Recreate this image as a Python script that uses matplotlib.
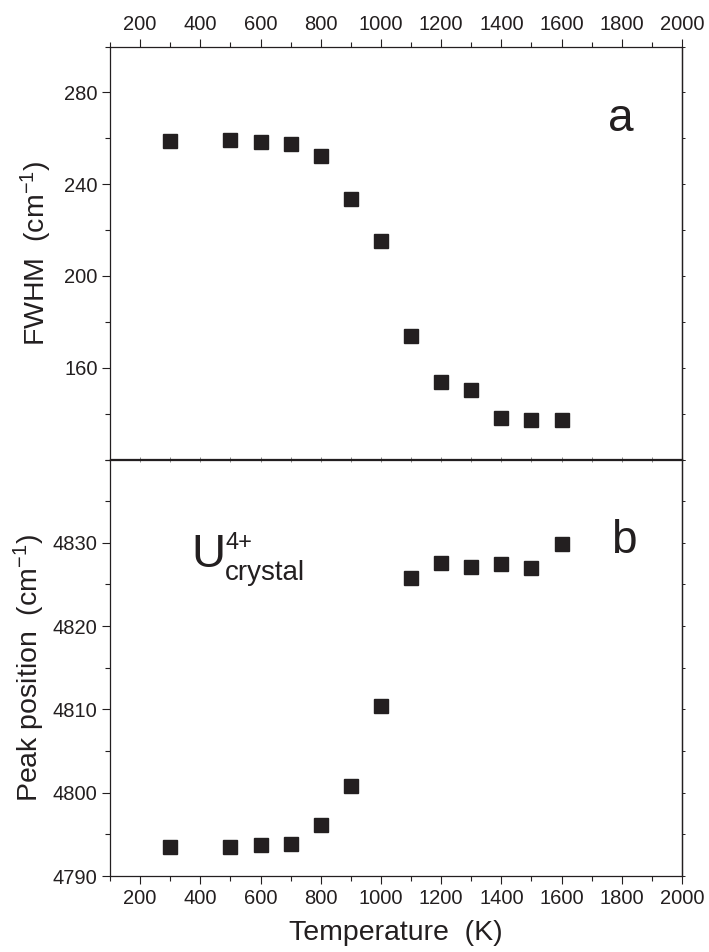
import matplotlib
matplotlib.use('Agg')
import matplotlib.pyplot as plt
from matplotlib.ticker import MultipleLocator, FixedLocator, NullFormatter

plt.rcParams['font.family'] = ['Liberation Sans', 'DejaVu Sans']
plt.rcParams['mathtext.fontset'] = 'custom'
plt.rcParams['mathtext.rm'] = 'Liberation Sans'
plt.rcParams['mathtext.it'] = 'Liberation Sans'

# ---- data ----
temperature = [300, 500, 600, 700, 800, 900, 1000, 1100, 1200, 1300, 1400, 1500, 1600]
fwhm = [258.9, 259.1, 258.3, 257.7, 252.2, 233.4, 215.2, 173.7, 153.7, 150.4, 138.3, 137.1, 137.1]
peak = [4793.5, 4793.5, 4793.7, 4793.85, 4796.1, 4800.75, 4810.4, 4825.75, 4827.55,
        4827.15, 4827.4, 4827.0, 4829.9]

x_major = [200, 400, 600, 800, 1000, 1200, 1400, 1600, 1800, 2000]
fwhm_major = [160, 200, 240, 280]
peak_major = [4790, 4800, 4810, 4820, 4830]

INK = '#231f20'
W, H = 709, 952
fig = plt.figure(figsize=(W / 100, H / 100), dpi=100)

L, R = 110, 682
top_t, top_b = 46.5, 459.5
bot_t, bot_b = 459.5, 876

def rect(t, b):
    return [L / W, 1 - b / H, (R - L) / W, (b - t) / H]

ax1 = fig.add_axes(rect(top_t, top_b))
ax2 = fig.add_axes(rect(bot_t, bot_b))

for ax in (ax1, ax2):
    for s in ax.spines.values():
        s.set_linewidth(0.9)
        s.set_color(INK)
    ax.set_xlim(100, 2000)
    ax.xaxis.set_major_locator(FixedLocator(x_major))
    ax.xaxis.set_minor_locator(MultipleLocator(100))
    ax.tick_params(which='major', direction='out', length=6, width=0.8, color=INK,
                   labelsize=14.5, labelcolor=INK, pad=3)
    ax.tick_params(which='minor', direction='out', length=3.3, width=0.8, color=INK)

# top panel
ax1.plot(temperature, fwhm, ls='none', marker='s', ms=10, mfc=INK, mec=INK)
ax1.set_ylim(120, 300)
ax1.yaxis.set_major_locator(FixedLocator(fwhm_major))
ax1.yaxis.set_minor_locator(MultipleLocator(20))
ax1.tick_params(which='both', top=True, bottom=False, labeltop=True, labelbottom=False,
                left=True, right=False)
ax1.set_ylabel('FWHM  (cm$^{\\mathregular{-1}}$)', fontsize=20.5, color=INK)
ax1.yaxis.set_label_coords(-0.098, 0.5)
ax1.text(0.893, 0.795, 'a', transform=ax1.transAxes, fontsize=33, ha='center',
         va='baseline', color=INK)

# bottom panel
ax2.plot(temperature, peak, ls='none', marker='s', ms=10, mfc=INK, mec=INK)
ax2.set_ylim(4790, 4840)
ax2.yaxis.set_major_locator(FixedLocator(peak_major))
ax2.yaxis.set_minor_locator(MultipleLocator(5))
ax2.tick_params(which='both', top=False, bottom=True, labeltop=False, labelbottom=True,
                left=True, right=False)
ax2.set_ylabel('Peak position  (cm$^{\\mathregular{-1}}$)', fontsize=20.5, color=INK)
ax2.yaxis.set_label_coords(-0.111, 0.5)
ax2.set_xlabel('Temperature  (K)', fontsize=20.5, color=INK, labelpad=9)
ax2.text(0.899, 0.776, 'b', transform=ax2.transAxes, fontsize=33, ha='center',
         va='baseline', color=INK)
ax2.text(0.143, 0.743, 'U', transform=ax2.transAxes, fontsize=34, ha='left',
         va='baseline', color=INK)
ax2.text(0.2015, 0.784, '4+', transform=ax2.transAxes, fontsize=17, ha='left',
         va='baseline', color=INK)
ax2.text(0.2005, 0.7115, 'crystal', transform=ax2.transAxes, fontsize=20, ha='left',
         va='baseline', color=INK)

# short ticks on right side and the shared middle border
for ax, mj, mn in ((ax1, fwhm_major, 20), (ax2, peak_major, 5)):
    sy = ax.secondary_yaxis('right')
    sy.yaxis.set_major_locator(FixedLocator(mj))
    sy.yaxis.set_minor_locator(MultipleLocator(mn))
    sy.yaxis.set_major_formatter(NullFormatter())
    sy.tick_params(which='both', direction='out', length=2.5, width=0.7, color=INK)
    sy.spines['right'].set_linewidth(0.9)
    sy.spines['right'].set_color(INK)

for ax, loc in ((ax1, 'bottom'), (ax2, 'top')):
    sx = ax.secondary_xaxis(loc)
    sx.xaxis.set_major_locator(FixedLocator(x_major))
    sx.xaxis.set_minor_locator(MultipleLocator(100))
    sx.xaxis.set_major_formatter(NullFormatter())
    sx.tick_params(which='both', direction='in', length=2, width=0.6, color='#777777')
    sx.spines[loc].set_linewidth(0.9)
    sx.spines[loc].set_color(INK)

fig.savefig('out.png', dpi=100)
